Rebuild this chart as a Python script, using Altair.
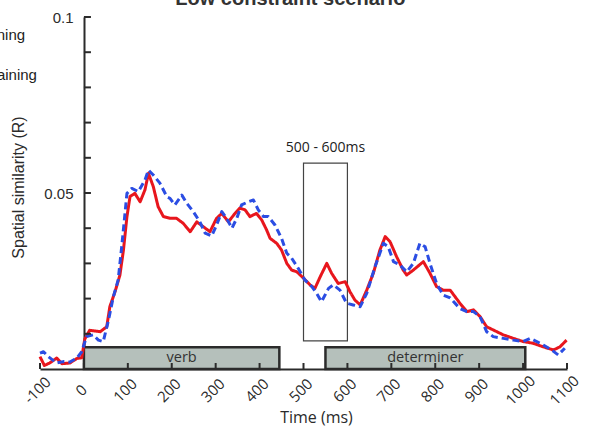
import altair as alt
import pandas as pd

# --- series: spatial similarity (R) over time (ms) ---
red_ms = [-100, -90, -78, -62, -50, -32, -16, -5, 2, 13, 37, 52, 59, 71, 82, 90, 98, 105, 116, 128,
          139, 147, 158, 169, 181, 196, 211, 226, 242, 257, 272, 287, 302, 314, 329, 344, 355, 367,
          378, 393, 405, 416, 424, 439, 450, 462, 473, 485, 500, 515, 526, 538, 553, 564, 579, 595,
          606, 617, 629, 644, 659, 674, 686, 697, 712, 727, 735, 750, 773, 788, 803, 818, 834, 856,
          872, 887, 902, 917, 932, 955, 978, 1000, 1023, 1046, 1069, 1084, 1099]
red_r = [0.0035, 0.0010, 0.0017, 0.0031, 0.0015, 0.0017, 0.0030, 0.0032, 0.0085, 0.0110, 0.0106,
         0.0120, 0.0177, 0.0220, 0.0267, 0.0338, 0.0433, 0.0490, 0.0499, 0.0475, 0.0509, 0.0556,
         0.0518, 0.0461, 0.0433, 0.0428, 0.0428, 0.0414, 0.0390, 0.0418, 0.0404, 0.0390, 0.0428,
         0.0442, 0.0418, 0.0442, 0.0457, 0.0452, 0.0433, 0.0442, 0.0423, 0.0395, 0.0371, 0.0357,
         0.0338, 0.0300, 0.0281, 0.0276, 0.0258, 0.0239, 0.0229, 0.0262, 0.0300, 0.0272, 0.0243,
         0.0248, 0.0219, 0.0196, 0.0182, 0.0224, 0.0272, 0.0338, 0.0376, 0.0362, 0.0319, 0.0281,
         0.0267, 0.0281, 0.0305, 0.0272, 0.0234, 0.0224, 0.0224, 0.0187, 0.0163, 0.0168, 0.0149,
         0.0120, 0.0111, 0.0097, 0.0087, 0.0078, 0.0073, 0.0063, 0.0054, 0.0063, 0.0082]

blue_ms = [-100, -92, -81, -62, -47, -32, -16, -5, 6, 21, 33, 44, 56, 67, 78, 86, 98, 109, 124, 139,
           147, 158, 173, 189, 196, 207, 223, 234, 249, 264, 276, 291, 302, 314, 325, 337, 348, 359,
           374, 386, 397, 409, 420, 435, 450, 462, 473, 488, 503, 519, 530, 541, 557, 568, 583, 598,
           613, 629, 644, 663, 682, 693, 705, 720, 735, 750, 765, 777, 788, 803, 818, 834, 856, 872,
           887, 902, 917, 932, 955, 978, 1000, 1016, 1031, 1046, 1065, 1080, 1095]
blue_r = [0.0045, 0.0049, 0.0035, 0.0017, 0.0021, 0.0020, 0.0031, 0.0049, 0.0092, 0.0097, 0.0082,
          0.0078, 0.0139, 0.0205, 0.0253, 0.0347, 0.0499, 0.0513, 0.0504, 0.0537, 0.0565, 0.0551,
          0.0528, 0.0489, 0.0485, 0.0466, 0.0494, 0.0471, 0.0447, 0.0418, 0.0386, 0.0378, 0.0409,
          0.0447, 0.0428, 0.0400, 0.0428, 0.0466, 0.0475, 0.0480, 0.0452, 0.0433, 0.0433, 0.0409,
          0.0371, 0.0329, 0.0315, 0.0286, 0.0253, 0.0234, 0.0215, 0.0191, 0.0229, 0.0239, 0.0224,
          0.0187, 0.0182, 0.0177, 0.0215, 0.0291, 0.0357, 0.0347, 0.0305, 0.0295, 0.0276, 0.0300,
          0.0357, 0.0347, 0.0300, 0.0243, 0.0210, 0.0202, 0.0172, 0.0163, 0.0163, 0.0149, 0.0106,
          0.0092, 0.0087, 0.0082, 0.0078, 0.0087, 0.0078, 0.0068, 0.0054, 0.0040, 0.0059]

series_names = ["Training", "Retraining"]
series_colors = ["#e8161d", "#2b4de3"]

# --- word segments along the time axis ---
seg_labels = ["verb", "determiner"]
seg_start = [0, 550]
seg_end = [445, 1005]
seg_top = 0.0062

# --- analysis window ---
win_start, win_end = 500, 600
win_low, win_high = 0.008, 0.0585
win_label = "500 - 600ms"

x_ticks = list(range(-100, 1101, 100))
y_ticks = [round(0.01 * i, 2) for i in range(1, 11)]

W, H = 527, 352
INK = "#2b2b2b"
SANS = "Liberation Sans"
UI = "Open Sans"

xs = alt.Scale(domain=[-100, 1100], nice=False, zero=False)
ys = alt.Scale(domain=[0, 0.1], nice=False, zero=False)

x_axis = alt.Axis(
    values=x_ticks, grid=False, ticks=False, tickSize=0, domainColor=INK, domainWidth=2,
    labelExpr="datum.value < 0 ? '-' + abs(datum.value) : '' + datum.value",
    labelAngle=-45, labelAlign="center", labelBaseline="middle", labelPadding=21,
    labelOffset=-3, labelFont=UI, labelFontSize=15, labelColor=INK,
    title="Time (ms)", titleFont=UI, titleFontSize=16, titleFontWeight="normal",
    titleColor=INK, titleX=276, titleY=48, titleBaseline="middle", titleAlign="center")
# y axis is drawn at t = 0, i.e. moved into the plot area
y_axis = alt.Axis(
    values=[0.05, 0.1], format=".2~f", offset=-44, grid=False, ticks=False, tickSize=0,
    domainColor=INK, domainWidth=2, labelFont=SANS, labelFontSize=15, labelColor=INK,
    labelPadding=11, title="Spatial similarity (R)", titleFont=SANS, titleFontSize=16,
    titleFontWeight="normal", titleColor=INK, titleX=-66, titleY=170, titleAngle=270,
    titleAlign="center", titleBaseline="middle")


def X(field):
    return alt.X(field, type="quantitative", scale=xs, axis=x_axis)


def Y(field):
    return alt.Y(field, type="quantitative", scale=ys, axis=y_axis)


lines_df = pd.concat([
    pd.DataFrame({"t": red_ms, "r": red_r, "cond": series_names[0]}),
    pd.DataFrame({"t": blue_ms, "r": blue_r, "cond": series_names[1]}),
])
seg_df = pd.DataFrame({"label": seg_labels, "start": seg_start, "end": seg_end,
                       "mid": [(a + b) / 2 for a, b in zip(seg_start, seg_end)],
                       "lo": 0.0, "hi": seg_top, "cy": seg_top / 2})
win_df = pd.DataFrame({"start": [win_start], "end": [win_end], "lo": [win_low], "hi": [win_high],
                       "label": [win_label], "mid": [(win_start + win_end) / 2], "ty": [0.0628]})
xt_df = pd.DataFrame({"t": x_ticks})
yt_df = pd.DataFrame({"r": y_ticks, "x0": 0, "x1": 16})

segs = alt.Chart(seg_df).mark_rect(fill="#b5c0bb", stroke=INK, strokeWidth=2.5).encode(
    x=X("start"), x2="end", y=Y("lo"), y2="hi")
seg_text = alt.Chart(seg_df).mark_text(font=UI, fontSize=14.5, color="#333333", baseline="middle").encode(
    x=X("mid"), y=Y("cy"), text="label:N")

window = alt.Chart(win_df).mark_rect(fill=None, stroke="#444444", strokeWidth=1.2).encode(
    x=X("start"), x2="end", y=Y("lo"), y2="hi")
win_text = alt.Chart(win_df).mark_text(font=UI, fontSize=14, color="#222222", baseline="middle").encode(
    x=X("mid"), y=Y("ty"), text="label:N")

lines = alt.Chart(lines_df).mark_line(strokeWidth=3, strokeJoin="round").encode(
    x=X("t"), y=Y("r"),
    color=alt.Color("cond:N", scale=alt.Scale(domain=series_names, range=series_colors), legend=None),
    strokeDash=alt.StrokeDash("cond:N", scale=alt.Scale(domain=series_names, range=[[1, 0], [7, 4]]),
                              legend=None),
    order=alt.Order("t:Q"))

# inward-pointing tick marks
x_tick_marks = alt.Chart(xt_df).mark_rule(color=INK, strokeWidth=2).encode(
    x=X("t"), y=alt.value(H - 6), y2=alt.value(H))
y_tick_marks = alt.Chart(yt_df).mark_rule(color=INK, strokeWidth=2).encode(
    y=Y("r"), x=X("x0"), x2="x1")

title = alt.Chart(pd.DataFrame({"t": [470], "r": [0.1034], "s": ["Low constraint scenario"]})).mark_text(
    font=SANS, fontSize=20, fontWeight="bold", color="#333333", baseline="alphabetic").encode(
    x=X("t"), y=Y("r"), text="s:N")

key = alt.Chart(pd.DataFrame({"t": [-134, -107], "r": [0.0949, 0.0835], "s": series_names})).mark_text(
    font=SANS, fontSize=15, color="#222222", align="right", baseline="middle").encode(
    x=X("t"), y=Y("r"), text="s:N")

chart = alt.layer(
    segs, seg_text, window, win_text, lines, x_tick_marks, y_tick_marks, title, key
).properties(
    width=W, height=H,
    autosize=alt.AutoSizeParams(type="none"),
    padding={"left": 40, "top": 17, "right": 22, "bottom": 59},
    background="white",
).configure_view(stroke=None)

chart.save("out.html", embed_options={"renderer": "svg", "actions": False})
